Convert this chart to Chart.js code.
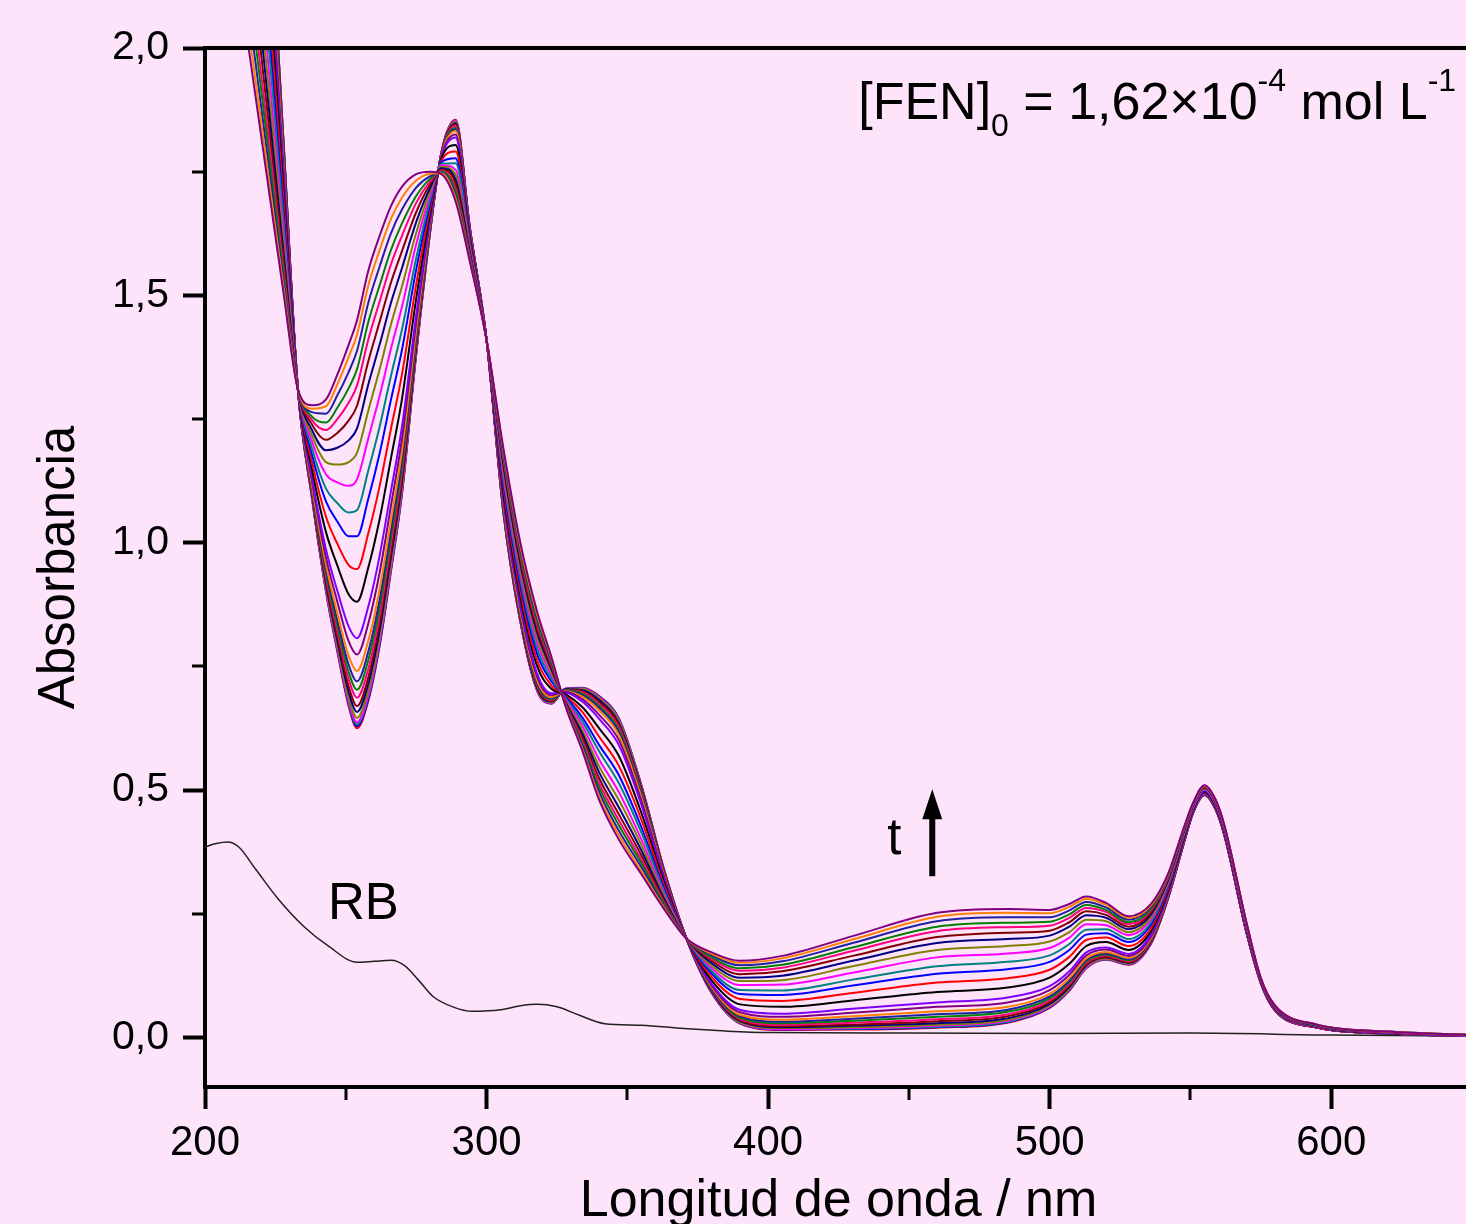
<!DOCTYPE html>
<html lang="es">
<head>
<meta charset="utf-8">
<title>Absorbancia frente a longitud de onda</title>
<script src="https://cdn.jsdelivr.net/npm/chart.js@4.4.1/dist/chart.umd.min.js"></script>
<style>
  html, body { margin: 0; padding: 0; overflow: hidden; background: #fde4fb; }
  #wrap { position: absolute; left: 0; top: 0; }
</style>
</head>
<body>
<div id="wrap"><canvas id="spectra" width="1480" height="1240"></canvas></div>
<script>
// wavelengths (nm) shared by all the time-resolved spectra
const wl = [215, 222, 228, 233, 238, 243, 247, 251, 254, 258, 262, 266, 270, 275, 280, 284, 289, 294, 300,
  306, 312, 318, 323, 328, 334, 340, 347, 355, 363, 371, 380, 390, 405, 430, 460, 485, 500, 507, 513,
  520, 528, 536, 542, 548, 551, 555, 559, 562, 570, 575, 580, 595, 620, 650];

// absorbance of each spectrum, first to last in time
const t01 = [3.10, 2.40, 1.80, 1.31, 1.09, 0.90, 0.78, 0.67, 0.625, 0.68, 0.79, 0.94, 1.10, 1.38, 1.63, 1.79, 1.855, 1.64, 1.41, 1.06, 0.84, 0.70, 0.675, 0.705, 0.707, 0.69, 0.645, 0.51, 0.34, 0.20, 0.09, 0.028, 0.015, 0.016, 0.02, 0.03, 0.06, 0.095, 0.14, 0.157, 0.147, 0.19, 0.28, 0.40, 0.455, 0.49, 0.46, 0.41, 0.21, 0.11, 0.055, 0.02, 0.008, 0.003];
const t02 = [3.095, 2.397, 1.799, 1.31, 1.091, 0.902, 0.783, 0.674, 0.629, 0.684, 0.794, 0.944, 1.103, 1.382, 1.631, 1.79, 1.854, 1.64, 1.41, 1.061, 0.841, 0.701, 0.675, 0.705, 0.706, 0.689, 0.644, 0.509, 0.34, 0.20, 0.09, 0.029, 0.016, 0.017, 0.021, 0.031, 0.061, 0.096, 0.141, 0.158, 0.148, 0.19, 0.28, 0.40, 0.455, 0.49, 0.46, 0.41, 0.21, 0.11, 0.055, 0.02, 0.008, 0.003];
const t03 = [3.089, 2.393, 1.797, 1.31, 1.092, 0.904, 0.786, 0.677, 0.633, 0.689, 0.798, 0.947, 1.106, 1.384, 1.631, 1.790, 1.853, 1.639, 1.41, 1.061, 0.842, 0.702, 0.676, 0.705, 0.706, 0.688, 0.643, 0.508, 0.339, 0.20, 0.091, 0.029, 0.017, 0.018, 0.022, 0.032, 0.062, 0.097, 0.141, 0.158, 0.148, 0.191, 0.281, 0.40, 0.455, 0.49, 0.46, 0.41, 0.21, 0.11, 0.055, 0.02, 0.008, 0.003];
const t04 = [3.084, 2.390, 1.796, 1.31, 1.093, 0.906, 0.788, 0.681, 0.637, 0.693, 0.802, 0.951, 1.109, 1.386, 1.632, 1.789, 1.853, 1.639, 1.41, 1.062, 0.842, 0.702, 0.676, 0.705, 0.705, 0.687, 0.641, 0.507, 0.339, 0.20, 0.091, 0.030, 0.017, 0.019, 0.024, 0.034, 0.063, 0.098, 0.142, 0.159, 0.149, 0.191, 0.281, 0.40, 0.455, 0.49, 0.46, 0.41, 0.21, 0.11, 0.055, 0.02, 0.008, 0.003];
const t05 = [3.073, 2.384, 1.793, 1.31, 1.095, 0.910, 0.794, 0.688, 0.646, 0.702, 0.811, 0.959, 1.116, 1.389, 1.633, 1.789, 1.851, 1.638, 1.41, 1.063, 0.844, 0.704, 0.677, 0.704, 0.704, 0.685, 0.639, 0.506, 0.338, 0.20, 0.092, 0.031, 0.019, 0.021, 0.026, 0.036, 0.065, 0.099, 0.144, 0.160, 0.150, 0.192, 0.281, 0.401, 0.456, 0.491, 0.46, 0.41, 0.21, 0.11, 0.055, 0.02, 0.008, 0.003];
const t06 = [3.057, 2.374, 1.788, 1.31, 1.098, 0.916, 0.802, 0.699, 0.658, 0.715, 0.823, 0.970, 1.125, 1.395, 1.635, 1.788, 1.848, 1.637, 1.41, 1.065, 0.846, 0.706, 0.679, 0.704, 0.702, 0.682, 0.635, 0.503, 0.337, 0.20, 0.093, 0.033, 0.021, 0.024, 0.029, 0.039, 0.068, 0.102, 0.146, 0.162, 0.151, 0.193, 0.282, 0.401, 0.456, 0.491, 0.461, 0.411, 0.211, 0.11, 0.055, 0.02, 0.008, 0.003];
const t07 = [3.041, 2.364, 1.784, 1.31, 1.100, 0.921, 0.811, 0.710, 0.670, 0.728, 0.836, 0.981, 1.134, 1.400, 1.637, 1.788, 1.846, 1.636, 1.41, 1.067, 0.849, 0.709, 0.680, 0.703, 0.700, 0.678, 0.632, 0.500, 0.336, 0.20, 0.095, 0.035, 0.023, 0.026, 0.033, 0.043, 0.071, 0.105, 0.148, 0.163, 0.152, 0.194, 0.283, 0.402, 0.456, 0.491, 0.461, 0.411, 0.211, 0.111, 0.056, 0.02, 0.008, 0.003];
const t08 = [3.019, 2.351, 1.778, 1.31, 1.104, 0.929, 0.822, 0.725, 0.687, 0.745, 0.852, 0.996, 1.147, 1.407, 1.639, 1.787, 1.843, 1.635, 1.41, 1.070, 0.852, 0.712, 0.682, 0.702, 0.698, 0.674, 0.627, 0.497, 0.334, 0.20, 0.096, 0.038, 0.026, 0.030, 0.037, 0.047, 0.075, 0.108, 0.151, 0.166, 0.154, 0.196, 0.284, 0.402, 0.457, 0.492, 0.462, 0.412, 0.212, 0.111, 0.056, 0.02, 0.008, 0.003];
const t09 = [2.997, 2.337, 1.772, 1.31, 1.108, 0.937, 0.833, 0.739, 0.703, 0.763, 0.869, 1.010, 1.159, 1.415, 1.641, 1.786, 1.839, 1.633, 1.41, 1.072, 0.855, 0.715, 0.684, 0.702, 0.695, 0.670, 0.622, 0.493, 0.332, 0.20, 0.098, 0.040, 0.029, 0.034, 0.042, 0.052, 0.079, 0.112, 0.154, 0.168, 0.156, 0.198, 0.285, 0.403, 0.457, 0.492, 0.462, 0.412, 0.212, 0.111, 0.056, 0.021, 0.008, 0.003];
const t10 = [2.976, 2.324, 1.766, 1.31, 1.112, 0.945, 0.844, 0.754, 0.720, 0.780, 0.885, 1.025, 1.171, 1.422, 1.644, 1.785, 1.836, 1.632, 1.41, 1.075, 0.858, 0.718, 0.686, 0.701, 0.692, 0.666, 0.617, 0.489, 0.331, 0.20, 0.099, 0.043, 0.032, 0.038, 0.047, 0.056, 0.083, 0.115, 0.157, 0.170, 0.158, 0.199, 0.286, 0.403, 0.457, 0.492, 0.462, 0.412, 0.212, 0.111, 0.056, 0.021, 0.008, 0.003];
const t11 = [2.949, 2.308, 1.758, 1.31, 1.116, 0.955, 0.858, 0.772, 0.741, 0.802, 0.906, 1.044, 1.187, 1.431, 1.647, 1.784, 1.832, 1.630, 1.41, 1.078, 0.862, 0.722, 0.688, 0.700, 0.689, 0.661, 0.611, 0.485, 0.329, 0.20, 0.102, 0.046, 0.036, 0.043, 0.053, 0.062, 0.088, 0.120, 0.160, 0.173, 0.161, 0.201, 0.287, 0.404, 0.458, 0.493, 0.463, 0.413, 0.213, 0.111, 0.056, 0.021, 0.009, 0.003];
const t12 = [2.906, 2.281, 1.746, 1.31, 1.124, 0.970, 0.881, 0.801, 0.774, 0.837, 0.939, 1.073, 1.212, 1.446, 1.652, 1.782, 1.825, 1.627, 1.41, 1.083, 0.869, 0.729, 0.692, 0.699, 0.684, 0.652, 0.601, 0.478, 0.326, 0.20, 0.105, 0.051, 0.042, 0.050, 0.062, 0.071, 0.096, 0.127, 0.166, 0.178, 0.165, 0.204, 0.289, 0.405, 0.459, 0.494, 0.464, 0.414, 0.214, 0.112, 0.057, 0.021, 0.009, 0.003];
const t13 = [2.862, 2.255, 1.734, 1.31, 1.131, 0.986, 0.903, 0.831, 0.807, 0.871, 0.973, 1.103, 1.236, 1.460, 1.656, 1.780, 1.819, 1.625, 1.41, 1.089, 0.875, 0.735, 0.696, 0.697, 0.679, 0.644, 0.591, 0.470, 0.322, 0.20, 0.108, 0.056, 0.048, 0.058, 0.071, 0.081, 0.104, 0.134, 0.172, 0.182, 0.169, 0.208, 0.291, 0.407, 0.459, 0.494, 0.464, 0.414, 0.214, 0.112, 0.057, 0.021, 0.009, 0.003];
const t14 = [2.765, 2.195, 1.707, 1.31, 1.148, 1.021, 0.954, 0.896, 0.881, 0.950, 1.047, 1.169, 1.292, 1.493, 1.667, 1.776, 1.804, 1.618, 1.41, 1.100, 0.890, 0.750, 0.705, 0.694, 0.668, 0.625, 0.569, 0.454, 0.315, 0.20, 0.115, 0.067, 0.062, 0.075, 0.092, 0.101, 0.121, 0.149, 0.185, 0.193, 0.177, 0.215, 0.296, 0.409, 0.461, 0.496, 0.466, 0.416, 0.216, 0.113, 0.058, 0.022, 0.009, 0.004];
const t15 = [2.679, 2.143, 1.683, 1.31, 1.163, 1.052, 0.998, 0.955, 0.947, 1.019, 1.114, 1.229, 1.342, 1.522, 1.677, 1.772, 1.791, 1.613, 1.41, 1.111, 0.902, 0.762, 0.712, 0.691, 0.658, 0.608, 0.549, 0.440, 0.309, 0.20, 0.122, 0.078, 0.074, 0.090, 0.111, 0.120, 0.137, 0.163, 0.197, 0.202, 0.185, 0.221, 0.300, 0.412, 0.463, 0.498, 0.468, 0.418, 0.218, 0.114, 0.059, 0.022, 0.010, 0.004];
const t16 = [2.592, 2.090, 1.659, 1.31, 1.178, 1.083, 1.043, 1.013, 1.013, 1.089, 1.180, 1.288, 1.391, 1.552, 1.686, 1.769, 1.777, 1.607, 1.41, 1.121, 0.915, 0.775, 0.720, 0.689, 0.647, 0.591, 0.530, 0.425, 0.302, 0.20, 0.129, 0.088, 0.086, 0.105, 0.129, 0.138, 0.153, 0.177, 0.208, 0.211, 0.193, 0.228, 0.304, 0.414, 0.464, 0.499, 0.469, 0.419, 0.219, 0.115, 0.060, 0.023, 0.010, 0.004];
const t17 = [2.522, 2.047, 1.640, 1.31, 1.191, 1.109, 1.080, 1.061, 1.066, 1.146, 1.234, 1.336, 1.432, 1.575, 1.694, 1.766, 1.767, 1.603, 1.41, 1.130, 0.926, 0.786, 0.726, 0.686, 0.639, 0.578, 0.514, 0.414, 0.297, 0.20, 0.134, 0.096, 0.095, 0.117, 0.144, 0.153, 0.166, 0.189, 0.218, 0.219, 0.199, 0.233, 0.307, 0.416, 0.466, 0.501, 0.471, 0.421, 0.221, 0.115, 0.060, 0.023, 0.010, 0.004];
const t18 = [2.441, 1.997, 1.617, 1.31, 1.205, 1.138, 1.122, 1.115, 1.128, 1.211, 1.296, 1.391, 1.478, 1.603, 1.703, 1.763, 1.754, 1.597, 1.41, 1.139, 0.938, 0.798, 0.733, 0.684, 0.630, 0.562, 0.496, 0.400, 0.291, 0.20, 0.140, 0.106, 0.107, 0.131, 0.162, 0.170, 0.181, 0.202, 0.229, 0.227, 0.207, 0.239, 0.311, 0.418, 0.467, 0.502, 0.472, 0.422, 0.222, 0.116, 0.061, 0.024, 0.010, 0.004];
const t19 = [2.371, 1.955, 1.598, 1.31, 1.217, 1.163, 1.158, 1.163, 1.182, 1.267, 1.350, 1.440, 1.519, 1.626, 1.711, 1.760, 1.744, 1.593, 1.41, 1.148, 0.948, 0.808, 0.739, 0.681, 0.621, 0.548, 0.480, 0.389, 0.286, 0.20, 0.145, 0.114, 0.116, 0.144, 0.177, 0.185, 0.194, 0.213, 0.238, 0.235, 0.213, 0.244, 0.314, 0.420, 0.469, 0.504, 0.474, 0.424, 0.224, 0.117, 0.062, 0.024, 0.011, 0.004];
const t20 = [2.306, 1.915, 1.580, 1.31, 1.228, 1.187, 1.192, 1.207, 1.231, 1.320, 1.400, 1.484, 1.556, 1.648, 1.718, 1.757, 1.734, 1.589, 1.41, 1.156, 0.958, 0.818, 0.745, 0.679, 0.614, 0.536, 0.465, 0.378, 0.281, 0.20, 0.150, 0.121, 0.125, 0.155, 0.191, 0.199, 0.206, 0.224, 0.247, 0.242, 0.219, 0.249, 0.317, 0.422, 0.470, 0.505, 0.475, 0.425, 0.225, 0.117, 0.062, 0.024, 0.011, 0.004];
const t21 = [2.247, 1.879, 1.563, 1.31, 1.239, 1.208, 1.222, 1.247, 1.277, 1.367, 1.446, 1.525, 1.590, 1.668, 1.725, 1.754, 1.725, 1.585, 1.41, 1.163, 0.966, 0.826, 0.750, 0.677, 0.607, 0.524, 0.451, 0.368, 0.277, 0.20, 0.155, 0.128, 0.134, 0.165, 0.203, 0.212, 0.216, 0.233, 0.255, 0.248, 0.224, 0.253, 0.320, 0.424, 0.471, 0.506, 0.476, 0.426, 0.226, 0.118, 0.063, 0.025, 0.011, 0.005];
const t22 = [2.193, 1.846, 1.548, 1.31, 1.248, 1.228, 1.250, 1.283, 1.318, 1.411, 1.487, 1.562, 1.621, 1.687, 1.731, 1.752, 1.716, 1.581, 1.41, 1.169, 0.974, 0.834, 0.755, 0.676, 0.600, 0.514, 0.439, 0.359, 0.273, 0.20, 0.159, 0.135, 0.141, 0.175, 0.215, 0.223, 0.226, 0.242, 0.262, 0.254, 0.229, 0.257, 0.322, 0.425, 0.472, 0.507, 0.477, 0.427, 0.227, 0.118, 0.063, 0.025, 0.011, 0.005];
const t23 = [2.150, 1.819, 1.536, 1.31, 1.255, 1.243, 1.273, 1.312, 1.351, 1.446, 1.520, 1.591, 1.646, 1.701, 1.736, 1.750, 1.710, 1.578, 1.41, 1.174, 0.981, 0.841, 0.759, 0.674, 0.595, 0.505, 0.429, 0.352, 0.270, 0.20, 0.162, 0.140, 0.147, 0.182, 0.224, 0.232, 0.234, 0.249, 0.268, 0.258, 0.233, 0.260, 0.324, 0.426, 0.473, 0.508, 0.478, 0.428, 0.228, 0.119, 0.064, 0.025, 0.012, 0.005];
const t24 = [2.101, 1.790, 1.523, 1.31, 1.264, 1.261, 1.298, 1.345, 1.388, 1.485, 1.558, 1.625, 1.674, 1.718, 1.741, 1.748, 1.702, 1.575, 1.41, 1.180, 0.988, 0.848, 0.763, 0.673, 0.590, 0.496, 0.418, 0.344, 0.266, 0.20, 0.166, 0.146, 0.154, 0.191, 0.235, 0.243, 0.243, 0.257, 0.274, 0.263, 0.238, 0.264, 0.326, 0.428, 0.474, 0.509, 0.479, 0.429, 0.229, 0.119, 0.064, 0.026, 0.012, 0.005];
const t25 = [2.058, 1.763, 1.511, 1.31, 1.271, 1.276, 1.320, 1.375, 1.421, 1.520, 1.591, 1.654, 1.698, 1.732, 1.746, 1.747, 1.696, 1.572, 1.41, 1.186, 0.994, 0.854, 0.767, 0.671, 0.584, 0.487, 0.409, 0.336, 0.263, 0.20, 0.169, 0.151, 0.160, 0.198, 0.244, 0.252, 0.251, 0.264, 0.280, 0.268, 0.242, 0.267, 0.328, 0.429, 0.474, 0.509, 0.479, 0.429, 0.229, 0.120, 0.065, 0.026, 0.012, 0.005];
const t26 = [2.02, 1.74, 1.50, 1.31, 1.278, 1.29, 1.34, 1.40, 1.45, 1.55, 1.62, 1.68, 1.72, 1.745, 1.75, 1.745, 1.69, 1.57, 1.41, 1.19, 1.00, 0.86, 0.77, 0.67, 0.58, 0.48, 0.40, 0.33, 0.26, 0.20, 0.172, 0.155, 0.165, 0.205, 0.252, 0.26, 0.258, 0.27, 0.285, 0.272, 0.245, 0.27, 0.33, 0.43, 0.475, 0.51, 0.48, 0.43, 0.23, 0.12, 0.065, 0.026, 0.012, 0.005];

// reference spectrum RB
const rbNm = [200, 204, 208, 212, 218, 226, 235, 244, 254, 260, 266, 271, 276, 281, 288, 295, 305, 312, 318, 325, 333, 342, 355, 370, 385, 400, 450, 500, 550, 600, 650];
const rbAbs = [0.385, 0.392, 0.395, 0.385, 0.34, 0.28, 0.225, 0.184, 0.152, 0.154, 0.156, 0.145, 0.115, 0.083, 0.062, 0.053, 0.056, 0.064, 0.067, 0.062, 0.045, 0.028, 0.025, 0.018, 0.013, 0.010, 0.009, 0.008, 0.009, 0.005, 0.003];

const xMinor = [250, 350, 450, 550];
const yMinor = [0.25, 0.75, 1.25, 1.75];

const series = [t01, t02, t03, t04, t05, t06, t07, t08, t09, t10, t11, t12, t13,
  t14, t15, t16, t17, t18, t19, t20, t21, t22, t23, t24, t25, t26];

// Origin-style colour cycle
const palette = ['#ff0000', '#0000ff', '#008080', '#ff00ff', '#808000', '#000080', '#800000',
  '#ff0080', '#008000', '#2020a0', '#ff8000', '#800080', '#8000ff', '#000000'];

const FONT = '"Liberation Sans", Arial, Helvetica, sans-serif';

const datasets = series.map((s, i) => ({
  label: 't' + (i + 1),
  data: wl.map((x, k) => ({x: x, y: s[k]})),
  borderColor: palette[i % palette.length],
  borderWidth: 2,
  pointRadius: 0,
  cubicInterpolationMode: 'monotone',
  order: series.length - i
}));

datasets.push({
  label: 'RB',
  data: rbNm.map((x, k) => ({x: x, y: rbAbs[k]})),
  borderColor: '#202020',
  borderWidth: 1.5,
  pointRadius: 0,
  cubicInterpolationMode: 'monotone',
  order: 100
});

function richText(ctx, parts, x, y) {
  parts.forEach(p => {
    ctx.font = p[1] + 'px ' + FONT;
    ctx.fillText(p[0], x, y + (p[2] || 0));
    x += ctx.measureText(p[0]).width;
  });
}

// top frame line, minor ticks and the text annotations
const extras = {
  id: 'extras',
  afterDraw(chart) {
    const {ctx, chartArea: a, scales: {x, y}} = chart;
    ctx.save();
    ctx.strokeStyle = '#000';
    ctx.lineWidth = 4;
    ctx.beginPath();
    ctx.moveTo(a.left - 2, a.top);
    ctx.lineTo(a.right, a.top);
    ctx.stroke();

    ctx.lineWidth = 3;
    ctx.beginPath();
    xMinor.forEach(v => {
      const px = Math.round(x.getPixelForValue(v));
      ctx.moveTo(px, a.bottom);
      ctx.lineTo(px, a.bottom + 13);
    });
    yMinor.forEach(v => {
      const py = Math.round(y.getPixelForValue(v));
      ctx.moveTo(a.left, py);
      ctx.lineTo(a.left - 13, py);
    });
    ctx.stroke();

    ctx.fillStyle = '#000';
    ctx.textBaseline = 'alphabetic';
    ctx.textAlign = 'left';
    richText(ctx, [['[FEN]', 52], ['0', 32, 17], [' = 1,62\u00d710', 52], ['-4', 32, -28],
      [' mol L', 52], ['-1', 32, -28]], x.getPixelForValue(432), y.getPixelForValue(1.857));

    ctx.font = '51px ' + FONT;
    ctx.fillText('RB', x.getPixelForValue(243.7), y.getPixelForValue(0.24));
    ctx.fillText('t', x.getPixelForValue(442.3), y.getPixelForValue(0.37));

    // time arrow
    const ax = x.getPixelForValue(458.3);
    const y0 = y.getPixelForValue(0.326);
    const y1 = y.getPixelForValue(0.502);
    ctx.lineWidth = 6;
    ctx.beginPath();
    ctx.moveTo(ax, y0);
    ctx.lineTo(ax, y1 + 24);
    ctx.stroke();
    ctx.beginPath();
    ctx.moveTo(ax, y1);
    ctx.lineTo(ax - 10, y1 + 30);
    ctx.lineTo(ax + 10, y1 + 30);
    ctx.closePath();
    ctx.fill();
    ctx.restore();
  }
};

new Chart(document.getElementById('spectra').getContext('2d'), {
  type: 'line',
  data: {datasets: datasets},
  options: {
    responsive: false,
    devicePixelRatio: 1,
    animation: false,
    layout: {padding: {top: 48, right: 8, bottom: 0, left: 0}},
    plugins: {legend: {display: false}, tooltip: {enabled: false}},
    scales: {
      x: {
        type: 'linear',
        min: 200,
        max: 650,
        afterFit(scale) { scale.height = 153; },
        ticks: {
          stepSize: 100,
          includeBounds: false,
          color: '#000',
          padding: 9,
          maxRotation: 0,
          font: {family: FONT, size: 42}
        },
        grid: {drawOnChartArea: false, drawTicks: true, tickLength: 22, tickWidth: 4, tickColor: '#000'},
        border: {display: true, color: '#000', width: 4},
        title: {
          display: true,
          text: 'Longitud de onda / nm',
          color: '#000',
          font: {family: FONT, size: 52},
          padding: {top: 0, bottom: 7}
        }
      },
      y: {
        type: 'linear',
        min: -0.1,
        max: 2.0,
        afterFit(scale) { scale.width = 205; },
        ticks: {
          stepSize: 0.5,
          includeBounds: false,
          color: '#000',
          padding: 14,
          font: {family: FONT, size: 41},
          callback: v => v.toFixed(1).replace('.', ',')
        },
        grid: {drawOnChartArea: false, drawTicks: true, tickLength: 22, tickWidth: 4, tickColor: '#000'},
        border: {display: true, color: '#000', width: 4},
        title: {
          display: true,
          text: 'Absorbancia',
          color: '#000',
          font: {family: FONT, size: 51},
          padding: {top: 29, bottom: 0}
        }
      }
    }
  },
  plugins: [extras]
});
</script>
</body>
</html>
